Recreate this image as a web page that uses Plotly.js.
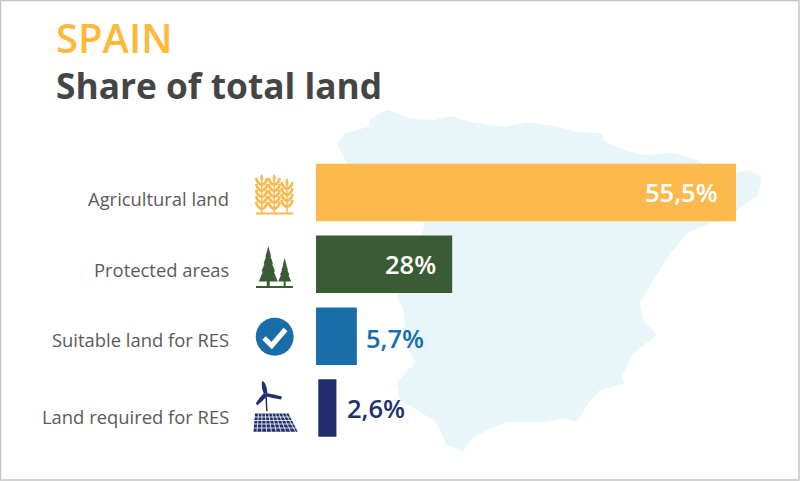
<!DOCTYPE html>
<html>
<head>
<meta charset="utf-8">
<script src="https://cdn.plot.ly/plotly-3.0.1.min.js"></script>
<style>
    html, body { margin: 0; padding: 0; background: #fff; }
    #grafico { width: 800px; height: 481px; }
</style>
</head>
<body>
<div id="grafico"></div>
<script>
    //Datos del grafico
    var categorias = ["Agricultural land", "Protected areas", "Suitable land for RES", "Land required for RES"];
    var etiquetas = ["55,5%", "28%", "5,7%", "2,6%"];
    //largos: la barra de 28% es mas corta de lo que dice su etiqueta
    var largos = [55.5, 18, 5.4, 2.4];
    var inicios = [0, 0, 0, 0.3];
    var colores = ["#fdb94d", "#3a5c35", "#196eaa", "#21306c"];
    var coloresTexto = ["#ffffff", "#ffffff", "#196eaa", "#21306c"];

    //Silueta de fondo, en pixeles de la pagina
    var mapaX = [336.7, 345, 368.3, 371.7, 380, 388.3, 400, 410, 433.3, 451.7, 470, 503.3, 528.3, 553.3, 576.7, 601.7, 605, 625, 643.3, 673.3, 696.7, 713.3, 733.3, 750, 761.7, 758.3, 736.7, 710, 686.7, 676.7, 670, 653.3, 640, 643.3, 657.3, 633.3, 621.7, 625, 600, 588.3, 576.7, 563.3, 546.7, 506.7, 486.7, 470, 463.3, 446.7, 438.3, 433.3, 400, 396.7, 415, 406.7, 403.3, 396.7, 410, 421.7, 425, 346.7, 341.7, 336.7];
    var mapaY = [145, 133.3, 126.7, 118.3, 113, 110, 114, 118.3, 120, 116, 121.7, 126.7, 122.3, 126, 131.7, 133.3, 141.7, 150, 155, 152.7, 160, 170, 173.3, 170, 177.3, 195, 210, 223.3, 233.3, 246.7, 253.3, 280, 303.3, 320, 335, 353.3, 376.7, 383.3, 390, 403.3, 421.7, 418.3, 421.7, 421.7, 430, 440, 451.7, 445, 426.7, 420, 400, 383.3, 361.7, 346.7, 310, 296.7, 263, 233.3, 225, 163.3, 153.3, 145];

    var fuente = "Open Sans, sans-serif";

    //Iconos dibujados con formas
    function trazo(path, color, ancho) {
        return { type: "path", xref: "x", yref: "y", path: path, line: { color: color, width: ancho }, fillcolor: "rgba(0,0,0,0)" };
    }
    function relleno(path, color) {
        return { type: "path", xref: "x", yref: "y", path: path, line: { width: 0 }, fillcolor: color };
    }

    function iconoTrigo() {
        var lista = [];
        var c = colores[0];
        [261.7, 274.2, 287].forEach(function (cx, n) {
            var tope = n == 2 ? 178 : 174;
            lista.push(trazo("M" + cx + " " + (tope + 4) + " L" + cx + " 213", c, 1.5));
            lista.push(relleno("M" + cx + " " + tope + " Q" + (cx + 3) + " " + (tope + 4) + " " + cx + " " + (tope + 8) + " Q" + (cx - 3) + " " + (tope + 4) + " " + cx + " " + tope + " Z", c));
            for (var y = tope + 6; y < 206; y += 6) {
                lista.push(trazo("M" + cx + " " + (y + 5) + " Q" + (cx - 5) + " " + (y + 3) + " " + (cx - 5.5) + " " + (y - 2), c, 2.6));
                lista.push(trazo("M" + cx + " " + (y + 5) + " Q" + (cx + 5) + " " + (y + 3) + " " + (cx + 5.5) + " " + (y - 2), c, 2.6));
            }
        });
        lista.push(trazo("M256 213.5 L293 213.5", c, 1.8));
        return lista;
    }

    function arbol(cx, tope, base, ancho, c) {
        var h = base - tope;
        var p = "M" + cx + " " + tope;
        var niveles = [0.3, 0.5, 0.72, 1];
        niveles.forEach(function (f) {
            p += " L" + (cx + ancho * f) + " " + (tope + h * f);
            if (f < 1) p += " L" + (cx + ancho * f * 0.8) + " " + (tope + h * f);
        });
        niveles.slice().reverse().forEach(function (f, i) {
            if (i > 0) p += " L" + (cx - ancho * f * 0.8) + " " + (tope + h * f);
            p += " L" + (cx - ancho * f) + " " + (tope + h * f);
        });
        return relleno(p + " Z", c);
    }

    function iconoArboles() {
        var c = colores[1];
        return [
            arbol(268.3, 246, 281.5, 9.5, c),
            arbol(284.7, 258, 281.5, 6.5, c),
            trazo("M268.3 280 L268.3 286", c, 3),
            trazo("M284.7 280 L284.7 286", c, 2),
            trazo("M256 287 L293 287", c, 1.8)
        ];
    }

    function iconoCheck() {
        return [
            { type: "circle", xref: "x", yref: "y", x0: 255.7, x1: 293.7, y0: 317.7, y1: 355.7, fillcolor: colores[2], line: { width: 0 } },
            trazo("M264 338 L271.7 345.5 L285.5 329.5", "#ffffff", 5)
        ];
    }

    function iconoEolica() {
        var c = colores[3];
        var lista = [
            trazo("M266 394 L266.8 411", c, 1.5),
            relleno("M262 381 Q266 381 267.5 393 L264 394 Q261 388 262 381 Z", c),
            relleno("M266 393 Q274 394 282 396.5 L281 399.5 Q272 398 265 396 Z", c),
            relleno("M264 393 L267 396 Q262 402 257 405.5 L256 403 Q259 398 264 393 Z", c)
        ];
        lista.push(relleno("M255 413.5 L288.5 413.5 L297.7 431.7 L253.5 431.7 Z", c));
        [417, 420.5, 424, 428].forEach(function (y) {
            lista.push(trazo("M250 " + y + " L299 " + y, "#ffffff", 0.8));
        });
        for (var i = 0; i < 9; i++) {
            var xa = 258.5 + i * 3.4;
            var xb = 257 + i * 4.8;
            lista.push(trazo("M" + xa + " 413.5 L" + xb + " 431.7", "#ffffff", 0.8));
        }
        return lista;
    }

    //Borde gris de la captura
    var borde = [
        trazo("M0.5 480 L0.5 0.5 L799 0.5 L799 480 Z", "#c4c4c4", 1.5)
    ];

    var formas = [].concat(borde, iconoTrigo(), iconoArboles(), iconoCheck(), iconoEolica());

    //Textos de valor colocados al final de cada barra
    var desplazamiento = [-16, -14, 7, 9];
    var anclas = ["right", "right", "left", "left"];
    var alturaValor = [0, 0, -2, 0];
    var notas = etiquetas.map(function (txt, i) {
        return {
            text: txt,
            xref: "x2",
            yref: "y2",
            x: inicios[i] + largos[i],
            y: categorias[i],
            xshift: desplazamiento[i],
            yshift: alturaValor[i],
            xanchor: anclas[i],
            showarrow: false,
            font: { family: fuente, size: 25.5, weight: 600, color: coloresTexto[i] }
        };
    });

    //Nombres de categoria, cada uno un poco mas abajo que el centro de su barra
    var alturaNombre = [-6, -5, -3, -8];
    categorias.forEach(function (txt, i) {
        notas.push({
            text: txt,
            xref: "x2",
            yref: "y2",
            x: 0,
            y: txt,
            xshift: -85,
            yshift: alturaNombre[i],
            xanchor: "right",
            showarrow: false,
            font: { family: fuente, size: 18.4, color: "#5a5a5a" }
        });
    });

    var data = [{
        //fondo
        x: mapaX,
        y: mapaY,
        xaxis: "x",
        yaxis: "y",
        mode: "lines",
        line: { width: 0 },
        fill: "toself",
        fillcolor: "#e8f6fa",
        hoverinfo: "skip",
        showlegend: false
    }, {
        x: largos,
        y: categorias,
        base: inicios,
        xaxis: "x2",
        yaxis: "y2",
        type: "bar",
        orientation: "h",
        width: 0.8,
        marker: { color: colores, line: { width: 0 } },
        hoverinfo: "skip",
        showlegend: false
    }];

    var layout = {
        width: 800,
        height: 481,
        margin: { l: 0, r: 0, t: 0, b: 0 },
        paper_bgcolor: "#ffffff",
        plot_bgcolor: "rgba(0,0,0,0)",
        title: {
            //un solo titulo de dos lineas, asi los dos textos no se pisan
            text: "<span style='color:#ffb938;font-weight:600;font-size:40px'>SPAIN</span><br>Share of total land",
            x: 56 / 800,
            xanchor: "left",
            y: 1 - 53 / 481,
            yanchor: "middle",
            font: { family: fuente, size: 35.3, weight: 700, color: "#454545" }
        },
        xaxis: { domain: [0, 1], range: [0, 800], visible: false, fixedrange: true },
        yaxis: { domain: [0, 1], range: [481, 0], visible: false, fixedrange: true },
        xaxis2: { domain: [316 / 800, 770 / 800], range: [0, 60], anchor: "y2", visible: false, fixedrange: true },
        yaxis2: {
            domain: [37 / 481, 324.5 / 481],
            anchor: "x2",
            type: "category",
            categoryorder: "array",
            categoryarray: categorias,
            range: [3.5, -0.5],
            showgrid: false,
            zeroline: false,
            showline: false,
            showticklabels: false,
            ticks: "",
            fixedrange: true
        },
        shapes: formas,
        annotations: notas
    };

    Plotly.newPlot("grafico", data, layout, { displayModeBar: false, staticPlot: true });
</script>
</body>
</html>
